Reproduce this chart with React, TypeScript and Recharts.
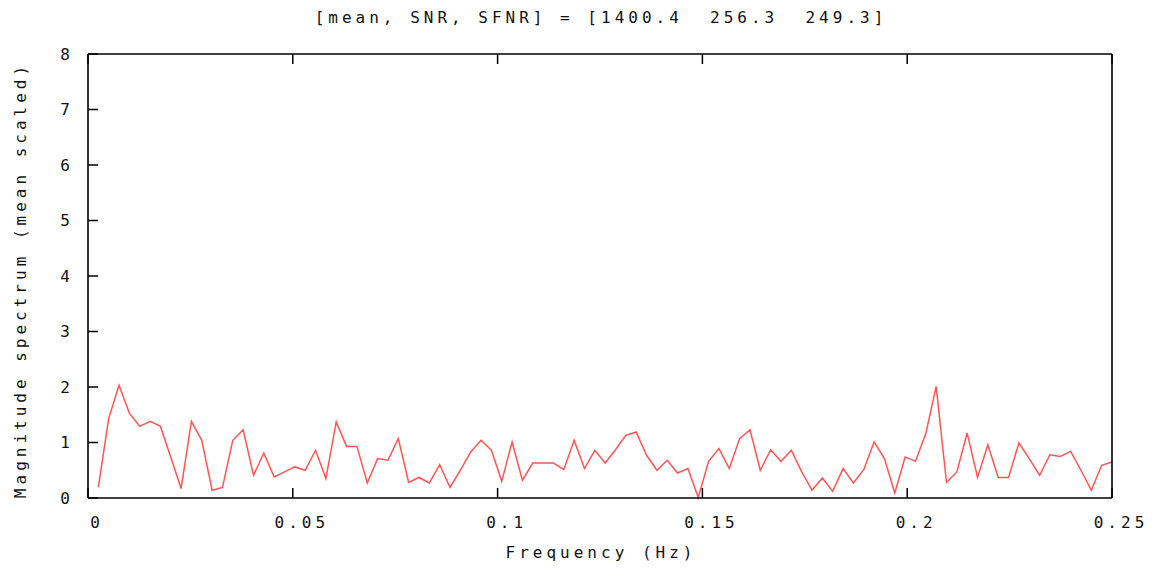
import React from "react";
import { LineChart, Line, XAxis, YAxis } from "recharts";

// spectrum bins, evenly spaced up to Nyquist (0.25 Hz)
const binCount = 99;
const nyquist = 0.25;

// magnitude per bin (mean scaled)
const magnitude = [
  0.19, 1.43, 2.03, 1.53, 1.29, 1.38, 1.29, 0.74, 0.17, 1.38,
  1.04, 0.14, 0.19, 1.04, 1.23, 0.41, 0.81, 0.38, 0.47, 0.56,
  0.5, 0.86, 0.35, 1.37, 0.93, 0.93, 0.27, 0.71, 0.68, 1.07,
  0.28, 0.37, 0.27, 0.6, 0.19, 0.5, 0.83, 1.04, 0.86, 0.3,
  1.01, 0.32, 0.63, 0.63, 0.63, 0.51, 1.04, 0.53, 0.86, 0.63,
  0.87, 1.13, 1.19, 0.77, 0.5, 0.68, 0.45, 0.53, 0.01, 0.66,
  0.89, 0.53, 1.07, 1.23, 0.5, 0.87, 0.66, 0.86, 0.47, 0.14,
  0.36, 0.12, 0.53, 0.27, 0.51, 1.01, 0.71, 0.09, 0.74, 0.66,
  1.16, 2.01, 0.28, 0.47, 1.17, 0.37, 0.96, 0.37, 0.37, 0.99,
  0.71, 0.41, 0.78, 0.75, 0.84, 0.5, 0.14, 0.59, 0.65,
];

const xTicks = [0, 0.05, 0.1, 0.15, 0.2, 0.25];
const yTicks = [0, 1, 2, 3, 4, 5, 6, 7, 8];
const statLabels = ["mean", "SNR", "SFNR"];
const statValues = ["1400.4", "256.3", "249.3"];

const W = 1154;
const H = 569;
const PLOT_TOP = 54;
const PLOT_BOTTOM = 498;
const PLOT_LEFT = 88;
const PLOT_RIGHT = 1112;

const BOTTOM_AXIS_H = 30;
const TOP_AXIS_H = 1;
const LEFT_AXIS_W = 60;
const RIGHT_AXIS_W = 1;

const M = {
  top: PLOT_TOP - TOP_AXIS_H,
  right: W - PLOT_RIGHT - RIGHT_AXIS_W,
  bottom: H - PLOT_BOTTOM - BOTTOM_AXIS_H,
  left: PLOT_LEFT - LEFT_AXIS_W,
};

// gnuplot-ish wide monospace look
const FONT = "'DejaVu Sans Mono', monospace";
const fontProps = {
  fontFamily: FONT,
  fontSize: 16,
  letterSpacing: 4.0,
  fill: "#111",
};

const TICK_LEN = 10;

const BottomTick = ({ x, payload }: any) => (
  <g>
    <line x1={x} y1={PLOT_BOTTOM} x2={x} y2={PLOT_BOTTOM - TICK_LEN} stroke="#000" strokeWidth={1.5} />
    <text x={x + 9} y={522} textAnchor="middle" dominantBaseline="central" {...fontProps}>
      {String(payload.value)}
    </text>
  </g>
);

const TopTick = ({ x }: any) => (
  <line x1={x} y1={PLOT_TOP} x2={x} y2={PLOT_TOP + TICK_LEN} stroke="#000" strokeWidth={1.5} />
);

const LeftTick = ({ y, payload }: any) => (
  <g>
    <line x1={PLOT_LEFT} y1={y} x2={PLOT_LEFT + TICK_LEN} y2={y} stroke="#000" strokeWidth={1.5} />
    <text x={74} y={y} textAnchor="end" dominantBaseline="central" {...fontProps}>
      {String(payload.value)}
    </text>
  </g>
);

const RightTick = ({ y }: any) => (
  <line x1={PLOT_RIGHT} y1={y} x2={PLOT_RIGHT - TICK_LEN} y2={y} stroke="#000" strokeWidth={1.5} />
);

export default function App() {
  const data = magnitude.map((m, i) => ({
    freq: ((i + 1) * nyquist) / binCount,
    mag: m,
  }));

  const title =
    "[" + statLabels.join(", ") + "] = [" + statValues.join("  ") + "]";

  const axisLine = { stroke: "#000", strokeWidth: 1.6 };

  return (
    <div style={{ position: "absolute", left: 0, top: 0, width: W, height: H, background: "#fff" }}>
      <LineChart width={W} height={H} data={data} margin={M}>
        <XAxis
          xAxisId="bottom"
          dataKey="freq"
          type="number"
          domain={[0, 0.25]}
          ticks={xTicks}
          height={BOTTOM_AXIS_H}
          axisLine={axisLine}
          tickLine={false}
          tick={<BottomTick />}
          interval={0}
        />
        <XAxis
          xAxisId="top"
          orientation="top"
          dataKey="freq"
          type="number"
          domain={[0, 0.25]}
          ticks={xTicks}
          height={TOP_AXIS_H}
          axisLine={axisLine}
          tickLine={false}
          tick={<TopTick />}
          interval={0}
        />
        <YAxis
          yAxisId="left"
          type="number"
          domain={[0, 8]}
          ticks={yTicks}
          width={LEFT_AXIS_W}
          axisLine={axisLine}
          tickLine={false}
          tick={<LeftTick />}
          interval={0}
        />
        <YAxis
          yAxisId="right"
          orientation="right"
          type="number"
          domain={[0, 8]}
          ticks={yTicks}
          width={RIGHT_AXIS_W}
          axisLine={axisLine}
          tickLine={false}
          tick={<RightTick />}
          interval={0}
        />
        <Line
          xAxisId="bottom"
          yAxisId="left"
          type="linear"
          dataKey="mag"
          stroke="#ff5555"
          strokeWidth={1.5}
          dot={false}
          isAnimationActive={false}
        />
      </LineChart>
      <svg
        width={W}
        height={H}
        style={{ position: "absolute", left: 0, top: 0, pointerEvents: "none" }}
      >
        <text x={601} y={17} textAnchor="middle" dominantBaseline="central" style={{ whiteSpace: "pre" }} {...fontProps}>
          {title}
        </text>
        <text x={601} y={552} textAnchor="middle" dominantBaseline="central" {...fontProps}>
          Frequency (Hz)
        </text>
        <text
          x={20}
          y={280}
          textAnchor="middle"
          dominantBaseline="central"
          transform="rotate(-90 20 280)"
          {...fontProps}
        >
          Magnitude spectrum (mean scaled)
        </text>
      </svg>
    </div>
  );
}
